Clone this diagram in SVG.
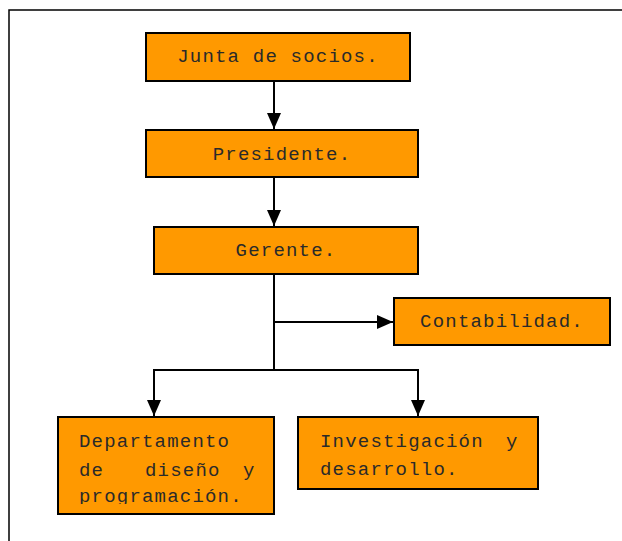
<svg xmlns="http://www.w3.org/2000/svg" width="622" height="541" viewBox="0 0 622 541">
<defs>
<style>
.box{fill:#FF9900;stroke:#000;stroke-width:2}
.t{font-family:"Liberation Mono","Courier New",monospace;font-size:19px;letter-spacing:1.2px;fill:#2a2a2a}
.c{fill:none;stroke:#000;stroke-width:2}
</style>
<marker id="ah" viewBox="0 0 16 14" refX="16" refY="7" markerWidth="16" markerHeight="14" markerUnits="userSpaceOnUse" orient="auto">
<path d="M0,0 L16,7 L0,14 Z" fill="#000"/>
</marker>
<clipPath id="clipDep"><rect x="58" y="417" width="216" height="87"/></clipPath>
</defs>
<rect x="0" y="0" width="622" height="541" fill="#fff"/>
<path d="M9,541 V10 H622" fill="none" stroke="#000" stroke-width="1.5"/>
<g id="connectors">
<line class="c" x1="274" y1="81" x2="274" y2="129" marker-end="url(#ah)"/>
<line class="c" x1="274" y1="177" x2="274" y2="226" marker-end="url(#ah)"/>
<line class="c" x1="274" y1="274" x2="274" y2="370"/>
<line class="c" x1="274" y1="322" x2="393" y2="322" marker-end="url(#ah)"/>
<polyline class="c" points="154,416 154,370 418,370 418,416" marker-end="url(#ah)"/>
<line class="c" x1="154" y1="370" x2="154" y2="416" marker-end="url(#ah)"/>
</g>
<g id="junta">
<rect class="box" x="146" y="33" width="264" height="48"/>
<text class="t" x="278" y="62" text-anchor="middle">Junta de socios.</text>
</g>
<g id="presidente">
<rect class="box" x="146" y="130" width="272" height="47"/>
<text class="t" x="282" y="160" text-anchor="middle">Presidente.</text>
</g>
<g id="gerente">
<rect class="box" x="154" y="227" width="264" height="47"/>
<text class="t" x="286" y="256" text-anchor="middle">Gerente.</text>
</g>
<g id="contabilidad">
<rect class="box" x="394" y="298" width="216" height="47"/>
<text class="t" x="502" y="327" text-anchor="middle">Contabilidad.</text>
</g>
<g id="departamento">
<rect class="box" x="58" y="417" width="216" height="97"/>
<g clip-path="url(#clipDep)">
<text class="t" x="79" y="447">Departamento</text>
<text class="t" y="476"><tspan x="79">de</tspan><tspan x="145">diseño</tspan><tspan x="243">y</tspan></text>
<text class="t" x="79" y="502">programación.</text>
</g>
</g>
<g id="investigacion">
<rect class="box" x="298" y="417" width="240" height="72"/>
<text class="t" y="447"><tspan x="320">Investigación</tspan><tspan x="506">y</tspan></text>
<text class="t" x="320" y="475">desarrollo.</text>
</g>
</svg>
